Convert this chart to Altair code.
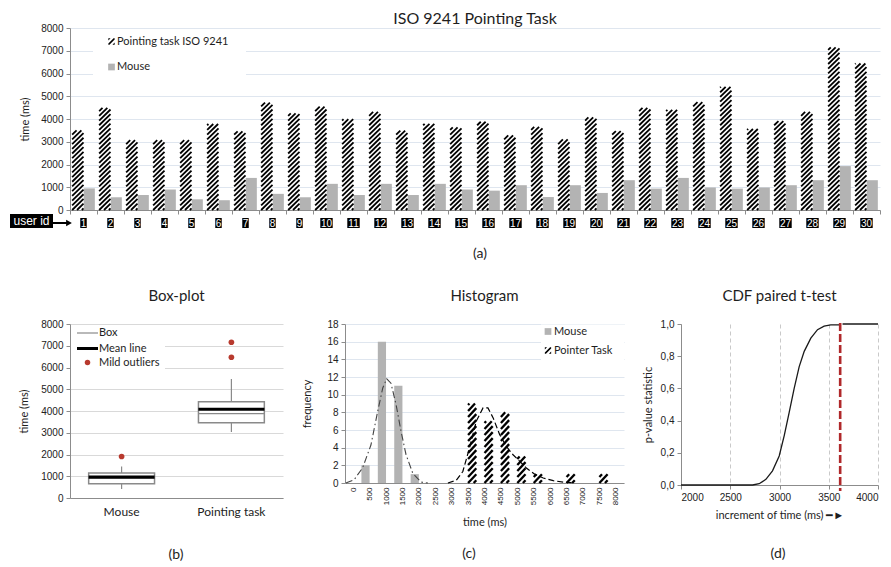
import altair as alt
import pandas as pd

# ---------------- data ----------------
user_id = list(range(1, 31))
pointing_ms = [3500, 4490, 3070, 3070, 3070, 3780, 3460, 4720, 4250, 4540, 3990, 4310, 3490, 3790,
               3630, 3880, 3280, 3650, 3100, 4070, 3470, 4490, 4400, 4740, 5410, 3560, 3910, 4310, 7150, 6440]
mouse_ms = [950, 560, 660, 900, 470, 430, 1410, 710, 560, 1150, 660, 1150, 660, 1150,
            900, 850, 1090, 570, 1090, 750, 1310, 940, 1410, 990, 940, 990, 1090, 1310, 1930, 1310]
legend_a = ["Pointing task ISO 9241", "Mouse"]

box_cat = ["Mouse", "Pointing task"]
box_q1 = [660, 3460]
box_q3 = [1150, 4420]
box_median = [930, 3880]
box_mean = [960, 4080]
box_wlo = [410, 3040]
box_whi = [1450, 5470]
outlier_cat = ["Mouse", "Pointing task", "Pointing task"]
outlier_ms = [1910, 6470, 7160]
legend_b = ["Box", "Mean line", "Mild outliers"]

hist_bins = list(range(0, 8001, 500))
hist_mouse = [0, 2, 16, 11, 1, 0, 0, 0, 0, 0, 0, 0, 0, 0, 0, 0, 0]
hist_pointer = [0, 0, 0, 0, 0, 0, 0, 9, 7, 8, 3, 1, 0, 1, 0, 1, 0]
mouse_curve_x = [-225, 30, 285, 540, 745, 900, 1020, 1150, 1305, 1460, 1610, 1815, 2070, 2275]
mouse_curve_y = [0, 0.38, 1.7, 4.3, 8.1, 10.75, 11.8, 11.3, 8.9, 5.8, 3.2, 1.1, 0.1, 0]
pointer_curve_x = [2885, 3140, 3340, 3545, 3750, 3955, 4105, 4260, 4460, 4665, 4870, 5075, 5275,
                   5530, 5790, 6095, 6400, 6655]
pointer_curve_y = [0, 0.3, 1.3, 4.0, 7.0, 8.5, 8.5, 7.4, 5.5, 4.15, 3.2, 2.45, 1.7, 1.0, 0.57,
                   0.26, 0.1, 0.04]
legend_c = ["Mouse", "Pointer Task"]

cdf_x = [2000, 2727, 2794, 2862, 2929, 2997, 3048, 3099, 3149, 3200, 3251, 3318, 3386, 3453, 3521, 3605,
         3640, 4000]
cdf_y = [0, 0, 0.008, 0.035, 0.088, 0.18, 0.307, 0.453, 0.6, 0.735, 0.83, 0.912, 0.965, 0.987, 0.994,
         0.994, 1.0, 1.0]
cdf_seg = [0] * 16 + [1, 1]
cdf_threshold = [3616]

# ---------------- styles ----------------
FONT = "Lato"
NUMFONT = "Liberation Sans"
TXT = "#1e1e1e"
GRAY = "#8c8c8c"
GRID_BLUE = "#dfe6ef"
GRID_GRAY = "#d9d9d9"
MOUSE = "#b3b3b3"
BOXGRAY = "#8a8a8a"
RED = "#b83a2e"
HATCH = "M-1,-1L-0.3,-1L-1,-0.3Z M-1,0.65L0.65,-1L1,-1L1,-0.65L-0.65,1L-1,1Z M1,0.3L1,1L0.3,1Z"

one = pd.DataFrame({"k": [0]})


def txt(s, x, y, size=11, color=TXT, align="left", font=FONT):
    return alt.Chart(pd.DataFrame({"t": [s]})).mark_text(
        align=align, baseline="middle", fontSize=size, font=font, color=color
    ).encode(x=alt.value(x), y=alt.value(y), text="t:N")


def hatch(chart, v_expr, l_expr, r_expr, period, rise, sw, kmin, X, Y):
    return (chart
            .transform_calculate(v=v_expr, L=l_expr, R=r_expr)
            .transform_filter("datum.v > 0")
            .transform_calculate(ks=f"sequence({kmin}, ceil(datum.v/{period})+1)")
            .transform_flatten(["ks"])
            .transform_calculate(y0=f"datum.ks*{period}", y1=f"datum.ks*{period}+{rise}")
            .transform_filter("datum.y1 > 0 && datum.y0 < datum.v")
            .transform_calculate(ya="max(datum.y0,0)", yb="min(datum.y1,datum.v)")
            .transform_calculate(xa=f"datum.L+(datum.R-datum.L)*(datum.ya-datum.y0)/{rise}",
                                 xb=f"datum.L+(datum.R-datum.L)*(datum.yb-datum.y0)/{rise}")
            .mark_rule(color="black", strokeWidth=sw, strokeCap="butt")
            .encode(x=X("xa"), x2="xb:Q", y=Y("ya"), y2="yb:Q"))


# ================= (a) top bar chart =================
W1, H1 = 810, 182
df_a = pd.DataFrame({"id": user_id, "pointing": pointing_ms, "mouse": mouse_ms})
xs_a = alt.Scale(domain=[0.5, 30.5], nice=False, zero=False)
ys_a = alt.Scale(domain=[0, 8000], nice=False)
ax_a = alt.Axis(values=[i + 0.5 for i in range(0, 31)], labels=False, ticks=True, tickSize=4,
                grid=False, title=None, domainColor=GRAY, tickColor=GRAY)
ay_a = alt.Axis(values=list(range(0, 8001, 1000)), format="d", title="time  (ms)", grid=True,
                gridColor=GRID_BLUE, tickSize=4, labelFontSize=10, titleFontSize=11, titlePadding=10,
                labelPadding=3)


def XA(f):
    return alt.X(f"{f}:Q", scale=xs_a, axis=ax_a)


def YA(f):
    return alt.Y(f"{f}:Q", scale=ys_a, axis=ay_a)


base_a = alt.Chart(df_a)
mouse_bars = base_a.transform_calculate(xl="datum.id", xr="datum.id+0.42", v="datum.mouse", z="0") \
    .mark_rect(color=MOUSE).encode(x=XA("xl"), x2="xr:Q", y=YA("v"), y2="z:Q")
point_bg = base_a.transform_calculate(xl="datum.id-0.42", xr="datum.id", v="datum.pointing", z="0") \
    .mark_rect(color="white").encode(x=XA("xl"), x2="xr:Q", y=YA("v"), y2="z:Q")
point_hatch = hatch(base_a, "datum.pointing", "datum.id-0.42", "datum.id", 207, 485, 1.8, -3, XA, YA)

id_boxes = base_a.transform_calculate(hw="datum.id < 10 ? 0.12 : 0.23", bl="datum.id-datum.hw",
                                      br="datum.id+datum.hw") \
    .mark_rect(color="black").encode(x=XA("bl"), x2="br:Q", y=alt.value(H1 + 8), y2=alt.value(H1 + 18))
id_text = base_a.mark_text(color="white", fontSize=10, font=NUMFONT, baseline="middle") \
    .encode(x=XA("id"), y=alt.value(H1 + 13.5), text=alt.Text("id:Q", format="d"))

uid_box = alt.Chart(one).mark_rect(color="black").encode(
    x=alt.value(-60), x2=alt.value(-17), y=alt.value(H1 + 4), y2=alt.value(H1 + 18))
uid_txt = txt("user id", -38.5, H1 + 11, size=12, color="white", align="center", font=NUMFONT)
uid_arrow = alt.Chart(one).mark_rule(color="black", strokeWidth=2).encode(
    x=alt.value(-17), x2=alt.value(-3), y=alt.value(H1 + 13), y2=alt.value(H1 + 13))
uid_head = alt.Chart(one).mark_point(shape="triangle-right", filled=True, color="black", size=45,
                                     opacity=1).encode(x=alt.value(-1), y=alt.value(H1 + 13))

leg_a_bg = alt.Chart(one).mark_rect(color="white").encode(
    x=alt.value(23), x2=alt.value(176), y=alt.value(5), y2=alt.value(52))
leg_a_i1 = alt.Chart(one).mark_point(shape=HATCH, filled=True, color="black", size=40, opacity=1) \
    .encode(x=alt.value(41.5), y=alt.value(13.5))
leg_a_i2 = alt.Chart(one).mark_square(color=MOUSE, size=45, opacity=1) \
    .encode(x=alt.value(41.5), y=alt.value(39))
leg_a_t1 = txt(legend_a[0], 47, 13.5, size=11)
leg_a_t2 = txt(legend_a[1], 47, 39, size=11)
lab_a = txt("(a)", 410, H1 + 44, size=14, align="center")

chart_a = alt.layer(mouse_bars, point_bg, point_hatch, id_boxes, id_text, uid_box, uid_txt, uid_arrow,
                    uid_head, leg_a_bg, leg_a_i1, leg_a_i2, leg_a_t1, leg_a_t2, lab_a).properties(
    width=W1, height=H1,
    title=alt.Title("ISO 9241 Pointing Task", fontSize=16, font=FONT, fontWeight="normal", color=TXT,
                    offset=-4))

# ================= (b) box plot =================
W2, H2 = 213, 174
df_b = pd.DataFrame({"cat": box_cat, "q1": box_q1, "q3": box_q3, "med": box_median, "mean": box_mean,
                     "lo": box_wlo, "hi": box_whi})
df_bo = pd.DataFrame({"cat": outlier_cat, "v": outlier_ms})
xs_b = alt.Scale(domain=box_cat, paddingInner=0.4, paddingOuter=0.17)
ax_b = alt.Axis(title=None, labelAngle=0, ticks=False, labelFontSize=12, labelFont=FONT, labelPadding=8,
                domainColor=GRAY)
ys_b = alt.Scale(domain=[0, 8000], nice=False)
ay_b = alt.Axis(values=list(range(0, 8001, 1000)), format="d", title="time (ms)", grid=True,
                gridColor=GRID_GRAY, tickSize=4, labelFontSize=10, titleFontSize=11, titlePadding=11,
                labelPadding=3)


def XB():
    return alt.X("cat:N", scale=xs_b, axis=ax_b)


def YB(f):
    return alt.Y(f"{f}:Q", scale=ys_b, axis=ay_b)


base_b = alt.Chart(df_b)
whisk = base_b.mark_rule(color=BOXGRAY, strokeWidth=1.2).encode(x=XB(), y=YB("lo"), y2="hi:Q")
boxes = base_b.mark_bar(fill="white", stroke=BOXGRAY, strokeWidth=1.5).encode(x=XB(), y=YB("q1"), y2="q3:Q")
med = base_b.mark_tick(color=BOXGRAY, thickness=1.2, size=66, opacity=1).encode(x=XB(), y=YB("med"))
mean = base_b.mark_tick(color="black", thickness=3.2, size=66, opacity=1).encode(x=XB(), y=YB("mean"))
outl = alt.Chart(df_bo).mark_circle(color=RED, size=32, opacity=1).encode(x=XB(), y=YB("v"))

leg_b_bg = alt.Chart(one).mark_rect(color="white").encode(
    x=alt.value(1), x2=alt.value(95), y=alt.value(1), y2=alt.value(48))
leg_b_l1 = alt.Chart(one).mark_rule(color=BOXGRAY, strokeWidth=1.2).encode(
    x=alt.value(7), x2=alt.value(28), y=alt.value(9), y2=alt.value(9))
leg_b_l2 = alt.Chart(one).mark_rule(color="black", strokeWidth=3).encode(
    x=alt.value(7), x2=alt.value(28), y=alt.value(24.5), y2=alt.value(24.5))
leg_b_dot = alt.Chart(one).mark_circle(color=RED, size=30, opacity=1).encode(
    x=alt.value(17.5), y=alt.value(38.5))
leg_b_t1 = txt(legend_b[0], 29, 9)
leg_b_t2 = txt(legend_b[1], 29, 24.5)
leg_b_t3 = txt(legend_b[2], 29, 38.5)
lab_b = txt("(b)", 106, H2 + 57, size=14, align="center")

chart_b = alt.layer(whisk, boxes, med, mean, outl, leg_b_bg, leg_b_l1, leg_b_l2, leg_b_dot,
                    leg_b_t1, leg_b_t2, leg_b_t3, lab_b).properties(
    width=W2, height=H2,
    title=alt.Title("Box-plot", fontSize=15, font=FONT, fontWeight="normal", color=TXT, offset=15))

# ================= (c) histogram =================
W3, H3 = 279, 159
df_c = pd.DataFrame({"bin": hist_bins, "mouse": hist_mouse, "pointer": hist_pointer})
df_cm = pd.DataFrame({"x": mouse_curve_x, "y": mouse_curve_y})
df_cp = pd.DataFrame({"x": pointer_curve_x, "y": pointer_curve_y})
xs_c = alt.Scale(domain=[-250, 8250], nice=False, zero=False)
ax_c = alt.Axis(values=hist_bins, format="d", labelAngle=270, labelFontSize=8, ticks=False, labelPadding=4,
                title="time (ms)", titleFontSize=11, titlePadding=12, grid=False)
ys_c = alt.Scale(domain=[0, 18], nice=False)
ay_c = alt.Axis(values=list(range(0, 19, 2)), title="frequency", grid=True, gridColor=GRID_BLUE,
                tickSize=4, labelFontSize=10, titleFontSize=11, titlePadding=14, labelPadding=3)


def XC(f):
    return alt.X(f"{f}:Q", scale=xs_c, axis=ax_c)


def YC(f):
    return alt.Y(f"{f}:Q", scale=ys_c, axis=ay_c)


base_c = alt.Chart(df_c)
h_mouse = base_c.transform_calculate(xl="datum.bin-250", xr="datum.bin", v="datum.mouse", z="0") \
    .transform_filter("datum.v > 0") \
    .mark_rect(color=MOUSE).encode(x=XC("xl"), x2="xr:Q", y=YC("v"), y2="z:Q")
h_pbg = base_c.transform_calculate(xl="datum.bin", xr="datum.bin+250", v="datum.pointer", z="0") \
    .transform_filter("datum.v > 0") \
    .mark_rect(color="white").encode(x=XC("xl"), x2="xr:Q", y=YC("v"), y2="z:Q")
h_phatch = hatch(base_c, "datum.pointer", "datum.bin", "datum.bin+250", 0.68, 1.0, 2.3, -2, XC, YC)
c_mouse = alt.Chart(df_cm).mark_line(color="#444444", strokeDash=[7, 3, 1.5, 3], strokeWidth=1.1) \
    .encode(x=XC("x"), y=YC("y"))
c_point = alt.Chart(df_cp).mark_line(color="black", strokeDash=[6, 3], strokeWidth=1.2) \
    .encode(x=XC("x"), y=YC("y"))

leg_c_bg = alt.Chart(one).mark_rect(color="white").encode(
    x=alt.value(196), x2=alt.value(W3), y=alt.value(0.5), y2=alt.value(37))
leg_c_i1 = alt.Chart(one).mark_square(color=MOUSE, size=45, opacity=1).encode(
    x=alt.value(203), y=alt.value(7.5))
leg_c_i2 = alt.Chart(one).mark_point(shape=HATCH, filled=True, color="black", size=40, opacity=1) \
    .encode(x=alt.value(203), y=alt.value(26.5))
leg_c_t1 = txt(legend_c[0], 209, 7.5)
leg_c_t2 = txt(legend_c[1], 209, 26.5)
lab_c = txt("(c)", 124, H3 + 71, size=14, align="center")

chart_c = alt.layer(h_mouse, h_pbg, h_phatch, c_mouse, c_point, leg_c_bg, leg_c_i1, leg_c_i2, leg_c_t1,
                    leg_c_t2, lab_c).properties(
    width=W3, height=H3,
    title=alt.Title("Histogram", fontSize=15, font=FONT, fontWeight="normal", color=TXT, offset=15))

# ================= (d) CDF =================
W4, H4 = 197, 161
df_d = pd.DataFrame({"x": cdf_x, "y": cdf_y, "seg": cdf_seg})
df_dt = pd.DataFrame({"x": cdf_threshold})
xs_d = alt.Scale(domain=[2000, 4000], nice=False, zero=False)
ax_d = alt.Axis(values=list(range(2000, 4001, 500)), format="d", grid=True, gridDash=[4, 3],
                gridColor="#c9c9c9", tickSize=4, labelFontSize=10,
                title="increment of time (ms) \u2501\u25ba",
                titleFontSize=11, titlePadding=7, labelPadding=3)
ys_d = alt.Scale(domain=[0, 1], nice=False)
ay_d = alt.Axis(values=[0, 0.2, 0.4, 0.6, 0.8, 1.0], grid=False, tickSize=4, labelFontSize=10,
                labelExpr="replace(format(datum.value, '.1f'), '.', ',')", title="p-value statistic",
                titleFontSize=11, titlePadding=7, labelPadding=3)

cdf_line = alt.Chart(df_d).mark_line(color="#1a1a1a", strokeWidth=1.3).encode(
    x=alt.X("x:Q", scale=xs_d, axis=ax_d), y=alt.Y("y:Q", scale=ys_d, axis=ay_d), detail="seg:N")
cdf_red = alt.Chart(df_dt).mark_rule(color="#b0282a", strokeWidth=2.6, strokeDash=[8, 3]).encode(
    x=alt.X("x:Q", scale=xs_d, axis=ax_d), y=alt.value(-1), y2=alt.value(H4 + 6))
lab_d = txt("(d)", 97, H4 + 69, size=14, align="center")

chart_d = alt.layer(cdf_line, cdf_red, lab_d).properties(
    width=W4, height=H4,
    title=alt.Title("CDF paired t-test", fontSize=15, font=FONT, fontWeight="normal", color=TXT, offset=15))

bottom = alt.hconcat(chart_b, chart_c, chart_d, spacing=18)
chart = alt.concat(chart_a, bottom, columns=1, spacing=28, align="none").properties(
    padding={"left": 2, "top": 3, "right": 0, "bottom": 0}
).configure_view(strokeWidth=0).configure_axis(
    labelFont=NUMFONT, titleFont=FONT, titleFontWeight="normal", titleColor=TXT, labelColor="#222222",
    domainColor=GRAY, tickColor=GRAY
).configure_title(anchor="middle")

chart.save("out.html", embed_options={"renderer": "svg", "actions": False})
